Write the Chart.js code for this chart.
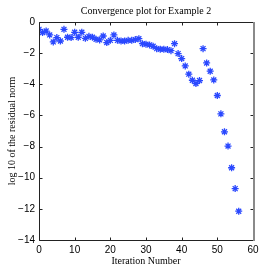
<!DOCTYPE html>
<html>
<head>
<meta charset="utf-8">
<script src="https://cdn.jsdelivr.net/npm/chart.js@4.4.0/dist/chart.umd.min.js"></script>
<style>
  html, body { margin: 0; padding: 0; background: #fff; }
  #wrap { width: 277px; height: 277px; }
</style>
</head>
<body>
<div id="wrap"><canvas id="chart" width="277" height="277"></canvas></div>
<script>
// data
const iterations = [0,1,2,3,4,5,6,7,8,9,10,11,12,13,14,15,16,17,18,19,20,
  21,22,23,24,25,26,27,28,29,30,31,32,33,34,35,36,37,38,39,40,
  41,42,43,44,45,46,47,48,49,50,51,52,53,54,55,56];
const logResidual = [-0.47,-0.68,-0.58,-0.83,-1.28,-1.0,-1.22,-0.47,-0.98,-1.0,-0.66,
  -0.98,-0.66,-1.05,-0.92,-0.98,-1.11,-1.15,-0.9,-1.32,-1.18,
  -0.83,-1.18,-1.22,-1.22,-1.18,-1.18,-1.13,-1.07,-1.39,-1.43,
  -1.47,-1.56,-1.71,-1.75,-1.75,-1.77,-1.84,-1.39,-2.03,-2.35,
  -2.82,-3.35,-3.74,-3.95,-3.76,-1.71,-2.63,-3.16,-3.72,-4.72,
  -5.9,-7.05,-7.97,-9.36,-10.7,-12.15];
const xTicks = [0,10,20,30,40,50,60];
const yTicks = [0,-2,-4,-6,-8,-10,-12,-14];

const points = iterations.map((x, i) => ({x: x, y: logResidual[i]}));

// matlab style box with ticks pointing inward
const boxPlugin = {
  id: 'box',
  afterDraw(chart) {
    const ctx = chart.ctx;
    const a = chart.chartArea;
    const xs = chart.scales.x, ys = chart.scales.y;
    const L = Math.round(a.left) + 0.5, R = Math.round(a.right) + 0.5;
    const T = Math.round(a.top) + 0.5, B = Math.round(a.bottom) + 0.5;
    ctx.save();
    ctx.strokeStyle = '#222';
    ctx.lineWidth = 1;
    ctx.beginPath();
    xTicks.forEach(v => {
      const px = Math.round(xs.getPixelForValue(v)) + 0.5;
      ctx.moveTo(px, B); ctx.lineTo(px, B - 3);
      ctx.moveTo(px, T); ctx.lineTo(px, T + 3);
    });
    yTicks.forEach(v => {
      const py = Math.round(ys.getPixelForValue(v)) + 0.5;
      ctx.moveTo(L, py); ctx.lineTo(L + 3, py);
      ctx.moveTo(R, py); ctx.lineTo(R - 3, py);
    });
    ctx.moveTo(L, B); ctx.lineTo(L, T); ctx.lineTo(R, T);
    ctx.moveTo(L, B); ctx.lineTo(R, B);
    ctx.stroke();
    // right edge looks grey and a bit heavier
    ctx.strokeStyle = '#8a8a8a';
    ctx.lineWidth = 2;
    ctx.beginPath();
    ctx.moveTo(R + 0.5, T - 0.5); ctx.lineTo(R + 0.5, B + 0.5);
    ctx.stroke();
    ctx.restore();
  }
};

const minus = v => (v < 0 ? '\u2212' + Math.abs(v) : String(v));

new Chart(document.getElementById('chart'), {
  type: 'scatter',
  data: {
    datasets: [{
      data: points,
      pointStyle: 'star',
      radius: 3.5,
      borderColor: '#2a48ff',
      backgroundColor: '#2a48ff',
      borderWidth: 1.3,
      showLine: false
    }]
  },
  options: {
    responsive: false,
    animation: false,
    layout: { padding: { left: 0, right: 24, top: 0, bottom: 10 } },
    plugins: {
      legend: { display: false },
      tooltip: { enabled: false },
      title: {
        display: true,
        fullSize: false,
        text: 'Convergence plot for Example 2',
        color: '#000',
        font: { family: 'Liberation Serif', size: 10, weight: 'normal' },
        padding: { top: 5, bottom: 5 }
      }
    },
    scales: {
      x: {
        type: 'linear',
        min: 0, max: 60,
        afterBuildTicks: s => { s.ticks = xTicks.map(v => ({value: v})); },
        afterFit: s => { s.height = 27; },
        grid: { display: false, drawTicks: false },
        border: { display: false },
        ticks: {
          color: '#000', padding: 4,
          font: { family: 'Liberation Sans', size: 10 },
          maxRotation: 0,
          callback: v => minus(v)
        },
        title: {
          display: true, text: 'Iteration Number', color: '#000',
          font: { family: 'Liberation Serif', size: 10 },
          padding: { top: 0, bottom: 0 }
        }
      },
      y: {
        type: 'linear',
        min: -14, max: 0,
        afterBuildTicks: s => { s.ticks = yTicks.map(v => ({value: v})); },
        afterFit: s => { s.width = 39; },
        grid: { display: false, drawTicks: false },
        border: { display: false },
        ticks: {
          color: '#000', padding: 4,
          font: { family: 'Liberation Sans', size: 10 },
          callback: v => minus(v)
        },
        title: {
          display: true, text: 'log 10 of the residual norm', color: '#000',
          font: { family: 'Liberation Serif', size: 10 },
          padding: { top: 6, bottom: 0 }
        }
      }
    }
  },
  plugins: [boxPlugin]
});
</script>
</body>
</html>
